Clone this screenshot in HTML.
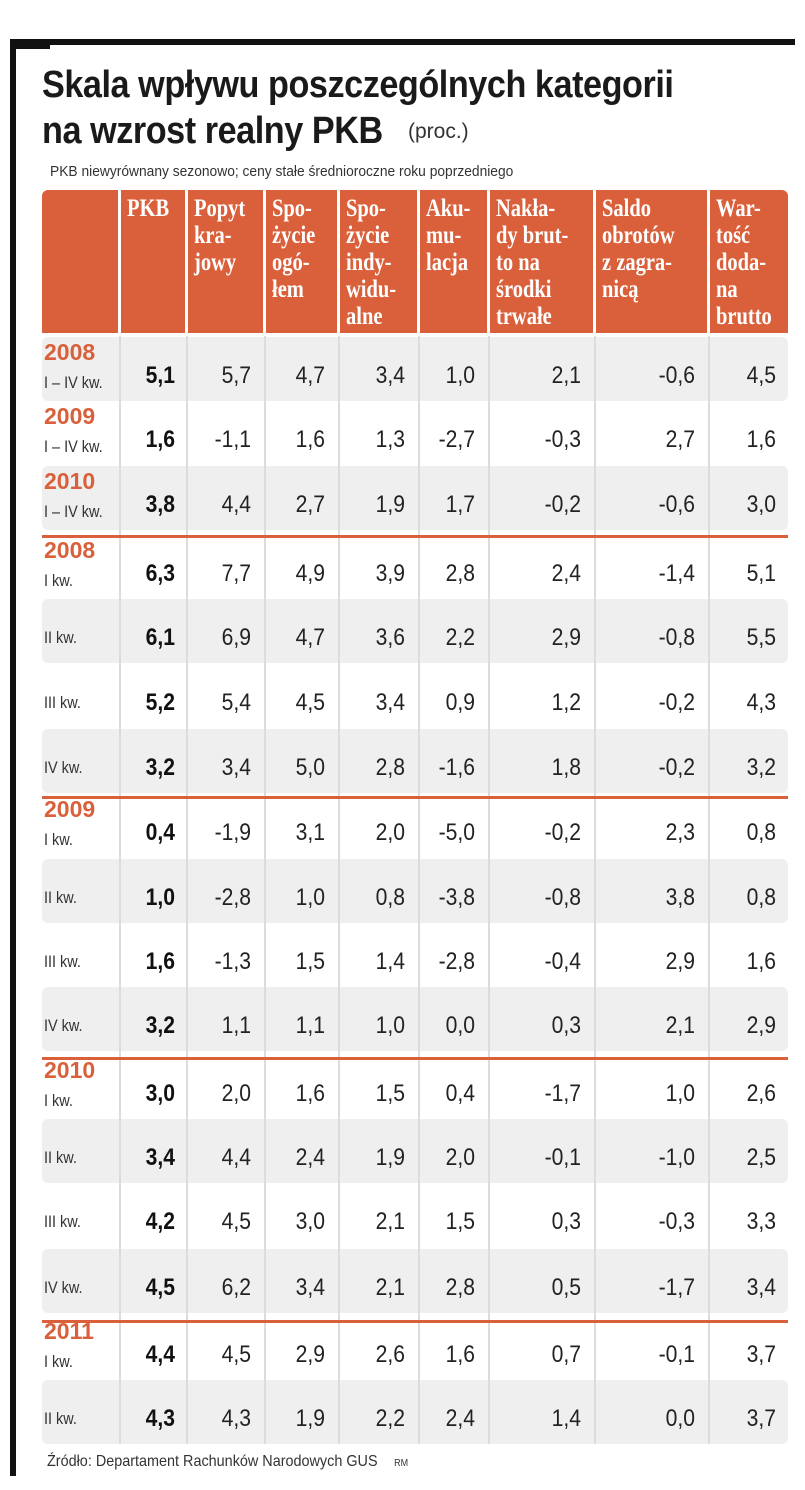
<!DOCTYPE html>
<html><head><meta charset="utf-8">
<style>
body{margin:0;background:#fff;width:805px;height:1490px;position:relative;overflow:hidden;font-family:"Liberation Sans",sans-serif;color:#222}
.abs{position:absolute}
.title{left:42px;font-weight:bold;font-size:38px;transform:scaleX(0.9);transform-origin:left top;white-space:nowrap;color:#1a1a1a;letter-spacing:-0.5px}
.hd{position:absolute;top:190px;height:143px;background:#d9603b;color:#fff;font-family:"Liberation Serif",serif;font-weight:bold;font-size:25px;line-height:27px;padding:5px 0 0 6px;box-sizing:border-box;overflow:hidden}
.hd span{display:inline-block;transform:scaleX(0.82);transform-origin:left top;white-space:nowrap}
.rowbg{position:absolute;left:42px;width:746px;height:64px;background:#efefef;border-radius:6px}
.sep{position:absolute;width:2px;background:#dcdcdc}
.num{position:absolute;font-size:24px;text-align:right;color:#222;transform:scaleX(0.88);transform-origin:right center}
.pkb{font-weight:bold;color:#111}
.yr{position:absolute;left:44px;color:#d9603b;font-weight:bold;font-size:23px}
.q{position:absolute;left:44px;font-size:17px;color:#333;transform:scaleX(0.85);transform-origin:left top;white-space:nowrap}
.oline{position:absolute;left:42px;width:746px;height:3px;background:#d9603b}
</style></head><body>
<div class="abs" style="left:10px;top:39px;width:785px;height:6px;background:#111"></div>
<div class="abs" style="left:10px;top:39px;width:40px;height:10px;background:#111"></div>
<div class="abs" style="left:10px;top:39px;width:6px;height:1437px;background:#111"></div>
<div class="abs title" style="top:64px">Skala wpływu poszczególnych kategorii</div>
<div class="abs title" style="top:110px">na wzrost realny PKB</div>
<div class="abs" style="left:408px;top:120px;font-size:21px;color:#333">(proc.)</div>
<div class="abs" style="left:50px;top:163px;font-size:15px;color:#333;transform:scaleX(0.92);transform-origin:left top;white-space:nowrap">PKB niewyrównany sezonowo; ceny stałe średnioroczne roku poprzedniego</div>
<div id="tbl"></div>
<div class="abs" style="left:47px;top:1453px;font-size:16px;color:#333;transform:scaleX(0.9);transform-origin:left top;white-space:nowrap">Źródło: Departament Rachunków Narodowych GUS <span style="font-size:10px;margin-left:14px">RM</span></div>
<script>
const headers=["","PKB","Popyt<br>kra-<br>jowy","Spo-<br>życie<br>ogó-<br>łem","Spo-<br>życie<br>indy-<br>widu-<br>alne","Aku-<br>mu-<br>lacja","Nakła-<br>dy brut-<br>to na<br>środki<br>trwałe","Saldo<br>obrotów<br>z zagra-<br>nicą","War-<br>tość<br>doda-<br>na<br>brutto"];
const years=["2008","2009","2010","2008","","","","2009","","","","2010","","","","2011",""];
const periods=["I – IV kw.","I – IV kw.","I – IV kw.","I kw.","II kw.","III kw.","IV kw.","I kw.","II kw.","III kw.","IV kw.","I kw.","II kw.","III kw.","IV kw.","I kw.","II kw."];
const pkb=["5,1","1,6","3,8","6,3","6,1","5,2","3,2","0,4","1,0","1,6","3,2","3,0","3,4","4,2","4,5","4,4","4,3"];
const popyt=["5,7","-1,1","4,4","7,7","6,9","5,4","3,4","-1,9","-2,8","-1,3","1,1","2,0","4,4","4,5","6,2","4,5","4,3"];
const spozOg=["4,7","1,6","2,7","4,9","4,7","4,5","5,0","3,1","1,0","1,5","1,1","1,6","2,4","3,0","3,4","2,9","1,9"];
const spozInd=["3,4","1,3","1,9","3,9","3,6","3,4","2,8","2,0","0,8","1,4","1,0","1,5","1,9","2,1","2,1","2,6","2,2"];
const akum=["1,0","-2,7","1,7","2,8","2,2","0,9","-1,6","-5,0","-3,8","-2,8","0,0","0,4","2,0","1,5","2,8","1,6","2,4"];
const naklady=["2,1","-0,3","-0,2","2,4","2,9","1,2","1,8","-0,2","-0,8","-0,4","0,3","-1,7","-0,1","0,3","0,5","0,7","1,4"];
const saldo=["-0,6","2,7","-0,6","-1,4","-0,8","-0,2","-0,2","2,3","3,8","2,9","2,1","1,0","-1,0","-0,3","-1,7","-0,1","0,0"];
const wartosc=["4,5","1,6","3,0","5,1","5,5","4,3","3,2","0,8","0,8","1,6","2,9","2,6","2,5","3,3","3,4","3,7","3,7"];
const cols=[popyt,spozOg,spozInd,akum,naklady,saldo,wartosc];
const colL=[42,121,188,266,340,420,490,596,710];
const colR=[118,185,263,337,417,487,593,707,788];
const centers=[368,432,497,566,630,695,760,825,890,954,1018,1086,1150,1214,1280,1347,1411];
const grayRows=[0,2,4,6,8,10,12,14,16];
const lines=[535,796,1057,1320];
const t=document.getElementById('tbl');
function mk(cls,css,html){const d=document.createElement('div');d.className=cls;d.style.cssText=css;if(html!==undefined)d.innerHTML=html;t.appendChild(d);return d;}
headers.forEach((h,i)=>{
 const d=mk('hd',`left:${colL[i]}px;width:${colR[i]-colL[i]}px;`+(i==0?'border-radius:6px 0 0 0;':'')+(i==8?'border-radius:0 6px 0 0;':''),'<span>'+h+'</span>');
 
 
});
centers.forEach((c,r)=>{
 if(grayRows.includes(r)){const g=mk('rowbg',`top:${c-31}px`);
 
 }
});
for(let i=1;i<9;i++){const s=mk('sep',`left:${colL[i]-2}px;top:336px;height:1108px`);
 
 }
lines.forEach(y=>{const l=mk('oline',`top:${y}px`);
 
 });
centers.forEach((c,r)=>{
 if(years[r]){const y=mk('yr',`top:${c-29}px`,years[r]);
  
  
  const q=mk('q',`top:${c+5}px`,periods[r]);
  
  
 } else {const q=mk('q',`top:${c-2}px`,periods[r]);
  
  }
 const p=mk('num pkb',`left:${colL[1]}px;width:${colR[1]-colL[1]-10}px;top:${c-5}px;line-height:26px`,pkb[r]);
 
 
 cols.forEach((arr,k)=>{
  const n=mk('num',`left:${colL[k+2]}px;width:${colR[k+2]-colL[k+2]-12}px;top:${c-5}px;line-height:26px`,arr[r]);
  
  
 });
});
</script>
</body></html>
